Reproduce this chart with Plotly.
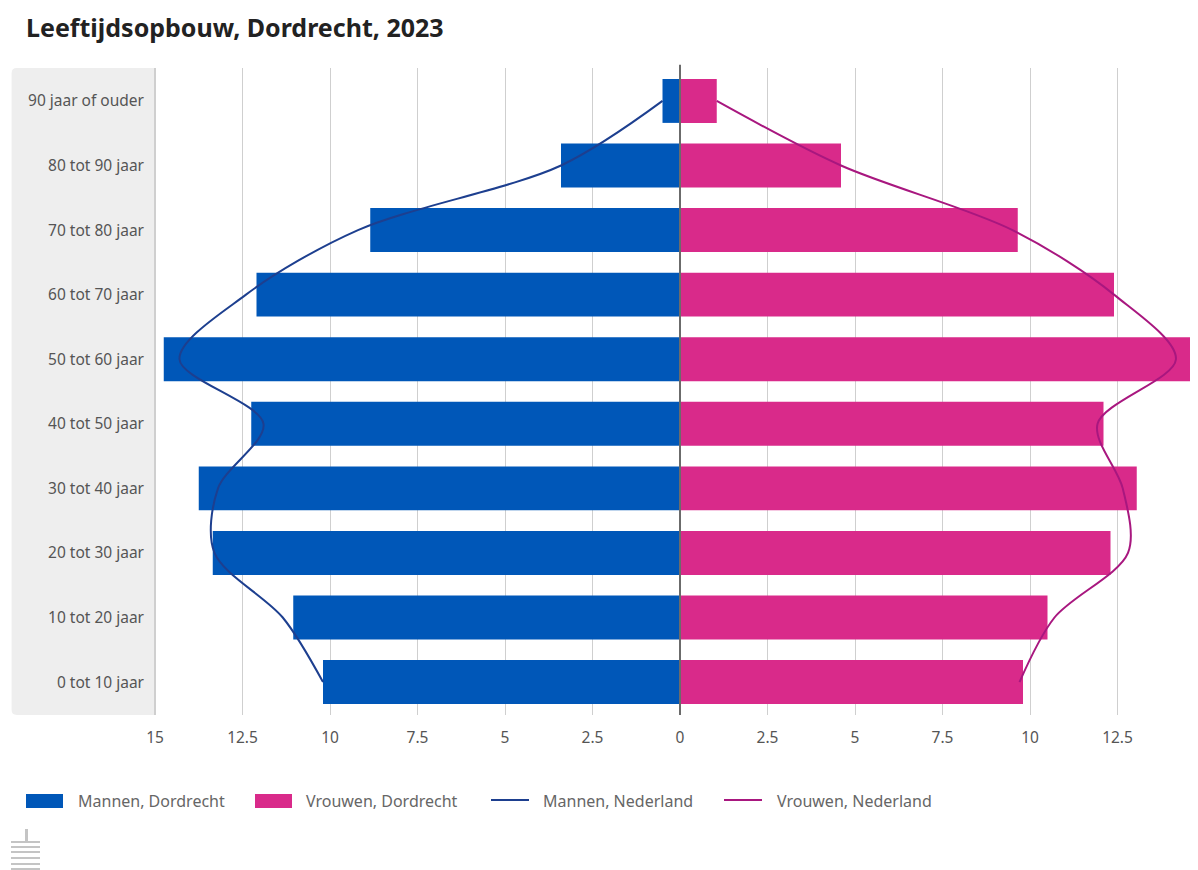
import plotly.graph_objects as go

categories = ["0 tot 10 jaar", "10 tot 20 jaar", "20 tot 30 jaar", "30 tot 40 jaar", "40 tot 50 jaar",
              "50 tot 60 jaar", "60 tot 70 jaar", "70 tot 80 jaar", "80 tot 90 jaar", "90 jaar of ouder"]
men_dordrecht = [10.2, 11.05, 13.35, 13.75, 12.25, 14.75, 12.1, 8.85, 3.4, 0.5]
women_dordrecht = [9.8, 10.5, 12.3, 13.05, 12.1, 14.6, 12.4, 9.65, 4.6, 1.05]
men_nl = [10.2, 11.35, 13.3, 13.2, 11.9, 14.3, 12.4, 9.2, 3.4, 0.5]
women_nl = [9.7, 10.7, 12.8, 12.65, 11.93, 14.17, 12.4, 9.5, 4.6, 1.05]
tick_vals = [-15, -12.5, -10, -7.5, -5, -2.5, 0, 2.5, 5, 7.5, 10, 12.5]
tick_text = ["15", "12.5", "10", "7.5", "5", "2.5", "0", "2.5", "5", "7.5", "10", "12.5"]
series_names = ["Mannen, Dordrecht", "Vrouwen, Dordrecht", "Mannen, Nederland", "Vrouwen, Nederland"]

BLUE = "#0057b8"
PINK = "#d92a8a"
NAVY = "#1d3f8f"
PURPLE = "#a8177f"
FONT = "Noto Sans"

# The page has an 8px body margin, so the figure is 8px smaller than the window.
OX, OY = 8, 8
W, H = 1190, 862
PL, PT, PR, PB = 155, 68, 1198, 715
PW, PH = PR - PL, PB - PT


def px(x):
    return (x - PL) / PW


def py(y):
    return (PB - y) / PH


fig = go.Figure()
fig.add_bar(y=categories, x=[-v for v in men_dordrecht], orientation="h", name=series_names[0],
            marker=dict(color=BLUE, line_width=0))
fig.add_bar(y=categories, x=women_dordrecht, orientation="h", name=series_names[1],
            marker=dict(color=PINK, line_width=0))
fig.add_scatter(y=categories, x=[-v for v in men_nl], mode="lines", name=series_names[2],
                line=dict(color=NAVY, width=2, shape="spline", smoothing=0.9))
fig.add_scatter(y=categories, x=women_nl, mode="lines", name=series_names[3],
                line=dict(color=PURPLE, width=2, shape="spline", smoothing=0.9))

shapes = [
    dict(type="path", xref="paper", yref="paper", layer="below", line_width=0, fillcolor="#eeeeee",
         path="M 0 0 L -0.1325 0 Q -0.1375 0 -0.1375 0.008 L -0.1375 0.992 Q -0.1375 1 -0.1325 1 L 0 1 Z"),
    dict(type="line", xref="paper", yref="paper", x0=0, x1=0, y0=0, y1=1, layer="below",
         line=dict(color="#cfcfcf", width=2)),
    dict(type="line", xref="x", yref="paper", x0=0, x1=0, y0=0, y1=1.005, layer="above",
         line=dict(color="#6b6b6b", width=2)),
]

# emblem at the lower left
for x0, x1, y0, y1 in [(11, 40, 841, 843), (11, 40, 846, 848), (11, 40, 851, 853),
                       (11, 40, 857, 859), (11, 40, 863, 865), (11, 40, 868, 870), (25, 28, 829, 841)]:
    shapes.append(dict(type="rect", xref="paper", yref="paper", layer="above", line_width=0,
                       fillcolor="#c4c4c4", x0=px(x0), x1=px(x1), y0=py(y1), y1=py(y0)))

# legend
LEGEND_Y = 801
shapes.append(dict(type="rect", xref="paper", yref="paper", line_width=0, fillcolor=BLUE,
                   x0=px(26), x1=px(63), y0=py(808), y1=py(794)))
shapes.append(dict(type="rect", xref="paper", yref="paper", line_width=0, fillcolor=PINK,
                   x0=px(255), x1=px(292), y0=py(808), y1=py(794)))
shapes.append(dict(type="line", xref="paper", yref="paper", line=dict(color=NAVY, width=2),
                   x0=px(491), x1=px(529), y0=py(800), y1=py(800)))
shapes.append(dict(type="line", xref="paper", yref="paper", line=dict(color=PURPLE, width=2),
                   x0=px(724), x1=px(762), y0=py(800), y1=py(800)))

annotations = [
    dict(text=name, xref="paper", yref="paper", x=px(tx), y=py(LEGEND_Y), showarrow=False,
         xanchor="left", yanchor="middle", xshift=0,
         font=dict(family=FONT, size=16, color="#666666"))
    for name, tx in zip(series_names, [76, 304, 541, 775])
]
annotations += [
    dict(text="15", xref="paper", yref="paper", x=px(1205), y=py(738), showarrow=False,
         xanchor="center", yanchor="middle", font=dict(family=FONT, size=15.5, color="#555555")),
    dict(text="%", xref="paper", yref="paper", x=px(1192), y=py(767), showarrow=False,
         xanchor="left", yanchor="middle", font=dict(family=FONT, size=15, color="#555555")),
]

fig.update_layout(
    width=W, height=H,
    margin=dict(l=PL - OX, r=0, t=PT - OY, b=H + OY - PB, pad=0),
    paper_bgcolor="white", plot_bgcolor="white",
    barmode="overlay", bargap=0.32,
    title=dict(text="<b>Leeftijdsopbouw, Dordrecht, 2023</b>", x=(26 - OX) / W, xanchor="left",
               y=1 - (28 - OY) / H, yanchor="middle", font=dict(family=FONT, size=25, color="#222222")),
    font=dict(family=FONT, size=15.5, color="#555555"),
    showlegend=False,
    shapes=shapes, annotations=annotations,
    xaxis=dict(range=[-15, 14.8], tickvals=tick_vals, ticktext=tick_text, showgrid=True,
               gridcolor="#cfcfcf", gridwidth=1, zeroline=False, showline=False, ticks="",
               ticklabelstandoff=11, tickfont=dict(family=FONT, size=15.5, color="#555555")),
    yaxis=dict(type="category", categoryorder="array", categoryarray=categories, range=[-0.51, 9.51],
               showgrid=False, zeroline=False, showline=False, ticks="", ticklabelstandoff=10,
               tickfont=dict(family=FONT, size=15.5, color="#555555")),
)
fig.write_html("out.html")
